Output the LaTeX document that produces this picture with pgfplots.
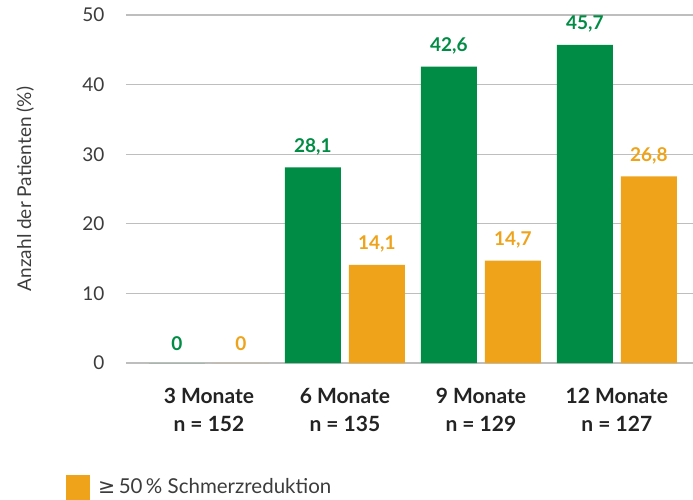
\documentclass[border=0pt]{standalone}
\usepackage{fontspec}
\setmainfont{Lato}
\newfontfamily\symfont{DejaVu Sans}
\usepackage{pgfplots}
\pgfplotsset{compat=1.18}
\definecolor{pgreen}{RGB}{0,140,68}
\definecolor{porange}{RGB}{238,163,27}
\definecolor{gridgray}{RGB}{190,190,190}
\definecolor{ticktext}{RGB}{60,60,60}
\definecolor{cattext}{RGB}{35,35,35}

\begin{document}
\begin{tikzpicture}
\begin{axis}[
    at={(0,0)}, anchor=south west,
    scale only axis,
    width=567pt, height=348pt,
    xmin=-0.61, xmax=3.56,
    ymin=0, ymax=50,
    ytick={0,10,20,30,40,50},
    xtick={0,1,2,3},
    xticklabels={{3 Monate\\n = 152},{6 Monate\\n = 135},{9 Monate\\n = 129},{12 Monate\\n = 127}},
    /pgf/number format/assume math mode=true,
    axis line style={draw=none},
    major tick length=0pt,
    ymajorgrids,
    major grid style={gridgray, line width=1.3pt},
    yticklabel style={font=\fontsize{19}{20}\selectfont, text=ticktext, anchor=east, xshift=-18pt},
    xticklabel style={font=\bfseries\fontsize{21}{28}\selectfont, text=cattext, align=center, anchor=north, yshift=-22pt},
    ylabel={Anzahl der Patienten (\%)},
    ylabel style={at={(axis description cs:-0.178,0.5)}, anchor=center,
        font=\fontsize{19}{19}\selectfont, text=ticktext},
    ybar, bar width=56pt,
    nodes near coords,
    point meta=explicit symbolic,
    every node near coord/.append style={font=\bfseries\fontsize{19}{20}\selectfont, anchor=south, yshift=9pt},
    legend style={at={(axis description cs:-0.1058,-0.322)}, anchor=north west, draw=none, fill=none,
        inner sep=0pt, font=\fontsize{20.5}{22}\selectfont, text=ticktext,
        /tikz/every odd column/.style={column sep=6pt}},
    legend cell align=left,
    legend image code/.code={\fill[porange] (0pt,-16pt) rectangle (24pt,11pt);},
]
\addplot[fill=pgreen, draw=none, bar shift=-32pt, forget plot,
    every node near coord/.append style={text=pgreen}] coordinates {
    (0,0) [0]
    (1,28.1) [28,1]
    (2,42.6) [42,6]
    (3,45.7) [45,7]
};
\addplot[fill=porange, draw=none, bar shift=32pt,
    every node near coord/.append style={text=porange}] coordinates {
    (0,0) [0]
    (1,14.1) [14,1]
    (2,14.7) [14,7]
    (3,26.8) [26,8]
};
\addlegendentry{{\symfont ≥}\,50\,\% Schmerzreduktion}
\end{axis}
\pgfresetboundingbox
\path[use as bounding box] (-126pt,-136pt) rectangle (567pt,363pt);
\end{tikzpicture}
\end{document}
